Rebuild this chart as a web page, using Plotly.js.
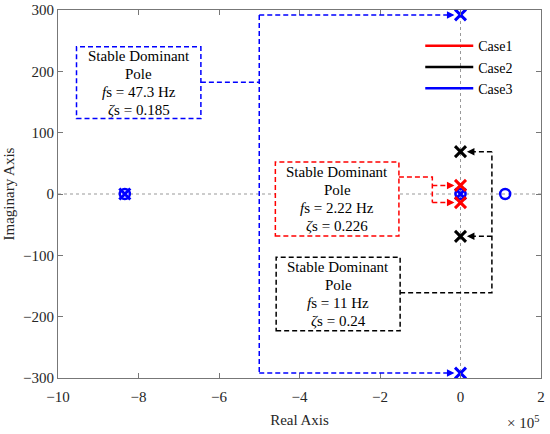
<!DOCTYPE html>
<html>
<head>
<meta charset="utf-8">
<script src="https://cdn.plot.ly/plotly-3.0.1.min.js"></script>
<style>html,body{margin:0;padding:0;background:#fff;}#chart{width:550px;height:434px;}</style>
</head>
<body>
<div id="chart"></div>
<script>
// Pole / zero locations (real part in s^-1, imaginary part in rad/s)
const case1PoleRe = [0, 0];
const case1PoleIm = [14, -14];
const case2PoleRe = [0, 0];
const case2PoleIm = [69, -69];
const case3PoleRe = [0, 0, 0, -834000];
const case3PoleIm = [292, -292, 0, 0];
const case3ZeroRe = [0, -834000, 111000];
const case3ZeroIm = [0, 0, 0];

const caseNames = ['Case1', 'Case2', 'Case3'];
const caseColors = ['#ff0000', '#000000', '#0000ff'];

const xTickVals = [-1000000, -800000, -600000, -400000, -200000, 0, 200000];
const xTickText = ['\u221210', '\u22128', '\u22126', '\u22124', '\u22122', '0', '2'];
const yTickVals = [-300, -200, -100, 0, 100, 200, 300];
const yTickText = ['\u2212300', '\u2212200', '\u2212100', '0', '100', '200', '300'];

const boxLines = [
  ['Stable Dominant', 'Pole', '<i>f</i>s = 47.3 Hz', '<i>\u03b6</i>s = 0.185'],
  ['Stable Dominant', 'Pole', '<i>f</i>s = 2.22 Hz', '<i>\u03b6</i>s = 0.226'],
  ['Stable Dominant', 'Pole', '<i>f</i>s = 11 Hz', '<i>\u03b6</i>s = 0.24']
];

const FONT = 'Liberation Serif, Times New Roman, serif';
const TXT = '#262626';

function poleTrace(x, y, color) {
  return {x: x, y: y, type: 'scatter', mode: 'markers', showlegend: false, hoverinfo: 'skip',
    marker: {symbol: 'x-thin-open', size: 11, color: color, line: {color: color, width: 3}}};
}
function zeroTrace(x, y, color) {
  return {x: x, y: y, type: 'scatter', mode: 'markers', showlegend: false, hoverinfo: 'skip',
    marker: {symbol: 'circle-open', size: 10, color: color, line: {color: color, width: 2.5}}};
}

const traces = [
  zeroTrace(case3ZeroRe, case3ZeroIm, caseColors[2]),
  poleTrace(case3PoleRe, case3PoleIm, caseColors[2]),
  poleTrace(case2PoleRe, case2PoleIm, caseColors[1]),
  poleTrace(case1PoleRe, case1PoleIm, caseColors[0])
];
caseNames.forEach((n, i) => {
  traces.push({x: [null], y: [null], type: 'scatter', mode: 'lines', name: n,
    line: {color: caseColors[i], width: 2.5}});
});

const dash = '5px,3px';
function dpath(d, color) {
  return {type: 'path', xref: 'x', yref: 'y', path: d, line: {color: color, width: 1.5, dash: dash}};
}
function rect(x0, x1, y0, y1, color) {
  return {type: 'rect', xref: 'x', yref: 'y', x0: x0, x1: x1, y0: y0, y1: y1,
    fillcolor: 'rgba(255,255,255,1)', line: {color: color, width: 1.5, dash: dash}};
}

const shapes = [
  // dotted grid lines through origin
  {type: 'line', xref: 'paper', yref: 'y', x0: 0, x1: 1, y0: 0, y1: 0, line: {color: '#999', width: 1, dash: 'dot'}, layer: 'below'},
  {type: 'line', xref: 'x', yref: 'paper', x0: 0, x1: 0, y0: 0, y1: 1, line: {color: '#999', width: 1, dash: 'dot'}, layer: 'below'},
  // blue
  rect(-954000, -645000, 123, 240, '#0000ff'),
  dpath('M -645000,182 L -500000,182 M -500000,292 L -500000,-292 M -500000,292 L -22000,292 M -500000,-292 L -22000,-292', '#0000ff'),
  // red
  rect(-460000, -153000, -68.5, 52, '#ff0000'),
  dpath('M -153000,27.7 L -70000,27.7 L -70000,-14 M -70000,14 L -22000,14 M -70000,-14 L -22000,-14', '#ff0000'),
  // black
  rect(-458000, -150000, -223, -103, '#000000'),
  dpath('M -150000,-161 L 78000,-161 L 78000,69 M 78000,69 L 20000,69 M 78000,-69 L 20000,-69', '#000000')
];

function arrowHead(x, y, dir, color) {
  return {x: x, y: y, xref: 'x', yref: 'y', text: '', showarrow: true, arrowhead: 2, arrowsize: 1,
    arrowwidth: 1.5, arrowcolor: color, ax: -8 * dir, ay: 0, standoff: 0};
}
function boxText(x, y, lines) {
  const shifts = [27, 9, -9, -27];
  return lines.map((t, i) => ({x: x, y: y, xref: 'x', yref: 'y', yshift: shifts[i], text: t,
    showarrow: false, align: 'center', font: {family: FONT, size: 15, color: '#000'}}));
}

const annotations = [
  arrowHead(-15000, 292, 1, '#0000ff'),
  arrowHead(-15000, -292, 1, '#0000ff'),
  arrowHead(-15000, 14, 1, '#ff0000'),
  arrowHead(-15000, -14, 1, '#ff0000'),
  arrowHead(16000, 69, -1, '#000000'),
  arrowHead(16000, -69, -1, '#000000'),
  ...boxText(-800000, 181.5, boxLines[0]),
  ...boxText(-306000, -8, boxLines[1]),
  ...boxText(-304000, -163, boxLines[2]),
  {x: 1, y: 0, xref: 'paper', yref: 'paper', xanchor: 'right', yanchor: 'top', yshift: -33,
    text: '\u00d7 10<sup>5</sup>', showarrow: false, font: {family: FONT, size: 15, color: TXT}}
];

const axisCommon = {
  showgrid: false, zeroline: false, showline: true, linecolor: '#777', linewidth: 1,
  mirror: 'ticks', ticks: 'inside', ticklen: 5, tickcolor: '#777',
  tickfont: {family: FONT, size: 15, color: TXT}
};

const layout = {
  width: 550, height: 434,
  margin: {l: 58, r: 9, t: 10, b: 56},
  paper_bgcolor: '#fff', plot_bgcolor: '#fff',
  font: {family: FONT, color: TXT},
  xaxis: Object.assign({}, axisCommon, {range: [-1000000, 200000], tickvals: xTickVals, ticktext: xTickText,
    ticklabelstandoff: 5,
    title: {text: 'Real Axis', font: {family: FONT, size: 15, color: TXT}, standoff: 10}}),
  yaxis: Object.assign({}, axisCommon, {range: [-300, 300], tickvals: yTickVals, ticktext: yTickText,
    title: {text: 'Imaginary Axis', font: {family: FONT, size: 15, color: TXT}, standoff: 4}}),
  legend: {x: 0.75, y: 0.945, xanchor: 'left', yanchor: 'top', bgcolor: 'rgba(0,0,0,0)', borderwidth: 0,
    itemwidth: 48, font: {family: FONT, size: 14, color: '#000'}},
  shapes: shapes,
  annotations: annotations
};

Plotly.newPlot('chart', traces, layout, {staticPlot: true});
</script>
</body>
</html>
